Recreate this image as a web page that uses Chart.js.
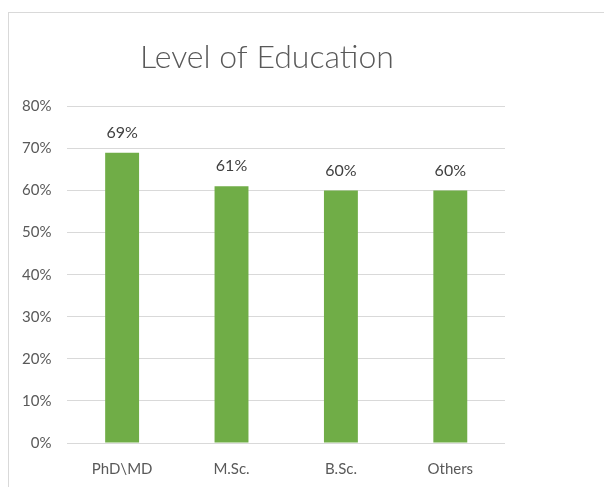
<!DOCTYPE html>
<html>
<head>
<meta charset="utf-8">
<script src="https://cdn.jsdelivr.net/npm/chart.js@4/dist/chart.umd.min.js"></script>
<style>
  html, body { margin: 0; padding: 0; background: #fff; overflow: hidden; }
  #wrap { position: relative; width: 604px; height: 487px; }
  #frame { position: absolute; left: 8px; top: 12px; width: 700px; height: 600px; border: 1px solid #d9d9d9; box-sizing: border-box; }
  #c { position: absolute; left: 0; top: 0; }
</style>
</head>
<body>
<div id="wrap">
  <div id="frame"></div>
  <canvas id="c" width="604" height="487"></canvas>
</div>
<script>
const categories = ["PhD\\MD", "M.Sc.", "B.Sc.", "Others"];
const values = [69, 61, 60, 60];
const yMin = 0, yMax = 80, yStep = 10;

const FONT = "Lato, 'Open Sans', sans-serif";

const barLabels = {
  id: 'barLabels',
  afterLayout(chart) {
    // centre the title over the whole framed chart area rather than the padded box
    if (chart.titleBlock) chart.titleBlock.left += 23;
  },
  afterDatasetsDraw(chart) {
    const ctx = chart.ctx;
    ctx.save();
    ctx.font = "16px " + FONT;
    ctx.fillStyle = "#404040";
    ctx.textAlign = "center";
    ctx.textBaseline = "bottom";
    chart.getDatasetMeta(0).data.forEach((el, i) => {
      ctx.fillText(values[i] + "%", el.x, el.y - 12);
    });
    ctx.restore();
  }
};

new Chart(document.getElementById('c'), {
  type: 'bar',
  data: {
    labels: categories,
    datasets: [{
      data: values,
      backgroundColor: '#70AD47',
      borderWidth: 0,
      barPercentage: 0.31,
      categoryPercentage: 1.0
    }]
  },
  options: {
    responsive: false,
    animation: false,
    devicePixelRatio: 1,
    layout: { padding: { left: 6, right: 99, top: 0, bottom: -8 } },
    plugins: {
      legend: { display: false },
      tooltip: { enabled: false },
      title: {
        display: true,
        text: 'Level of Education',
        color: '#595959',
        font: { family: FONT, size: 32, weight: '300' },
        padding: { top: 38, bottom: 30 }
      }
    },
    scales: {
      x: {
        grid: { display: false, drawTicks: false },
        border: { display: false },
        ticks: { color: '#595959', font: { family: FONT, size: 15 }, padding: 17 }
      },
      y: {
        min: yMin, max: yMax,
        grid: { color: '#d9d9d9', lineWidth: 1, drawTicks: false },
        border: { display: false },
        ticks: {
          stepSize: yStep,
          color: '#595959',
          font: { family: FONT, size: 15 },
          padding: 16,
          callback: v => v + '%'
        }
      }
    }
  },
  plugins: [barLabels]
});
</script>
</body>
</html>
